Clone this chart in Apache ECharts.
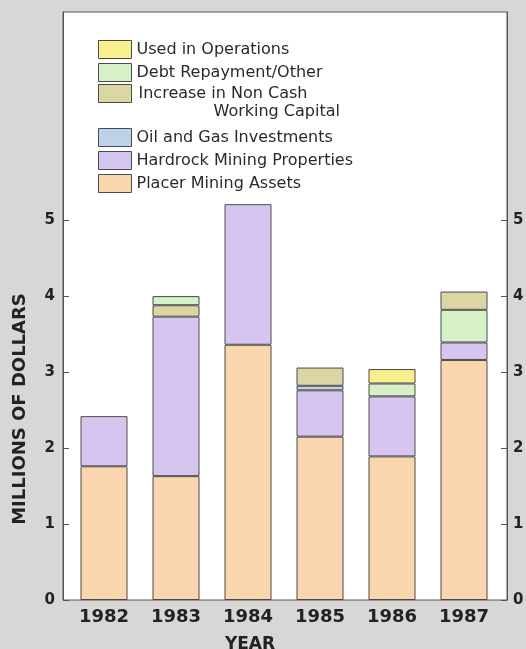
<!DOCTYPE html>
<html>
<head>
<meta charset="utf-8">
<script src="https://cdn.jsdelivr.net/npm/echarts@6/dist/echarts.min.js"></script>
<style>
  html, body { margin: 0; padding: 0; background: #d7d7d5; }
  #chart { width: 526px; height: 649px; }
</style>
</head>
<body>
<div id="chart"></div>
<script>
// Uses of funds by year, millions of dollars
const years = ['1982', '1983', '1984', '1985', '1986', '1987'];
const placerMining = [1.76, 1.63, 3.36, 2.15, 1.89, 3.16];
const hardrockMining = [0.66, 2.10, 1.85, 0.61, 0.79, 0.23];
const oilAndGas = [null, null, null, 0.06, null, null];
// working-capital increase sits below debt repayment in some years, above it in others
const workingCapitalLower = [null, 0.15, null, 0.24, null, null];
const debtRepayment = [null, 0.12, null, null, 0.17, 0.43];
const workingCapitalUpper = [null, null, null, null, null, 0.24];
const usedInOperations = [null, null, null, null, 0.19, null];
const yTicks = [0, 1, 2, 3, 4, 5];

const NAMES = {
  used: 'Used in Operations',
  debt: 'Debt Repayment/Other',
  wc: 'Increase in Non Cash Working Capital',
  oil: 'Oil and Gas Investments',
  hard: 'Hardrock Mining Properties',
  placer: 'Placer Mining Assets'
};
const COLORS = {
  used: '#f8f08c',
  debt: '#d7f0c7',
  wc: '#dcd6a3',
  oil: '#bdd2e6',
  hard: '#d6c6ef',
  placer: '#f9d6ae'
};

const EDGE = '#4a4a4a';
const INK = '#222';
const LEGEND_INK = '#2a2a2a';
const LEGEND_SIZE = 16;

function barSeries(name, color, data) {
  return {
    type: 'bar',
    name: name,
    stack: 'funds',
    data: data,
    barWidth: 47,
    itemStyle: { color: color, borderColor: EDGE, borderWidth: 1 },
    emphasis: { disabled: true },
    xAxisIndex: 0,
    yAxisIndex: 0
  };
}

const legendCommon = {
  orient: 'vertical',
  left: 98,
  padding: 0,
  icon: 'rect',
  itemWidth: 33,
  itemHeight: 18,
  itemGap: 4,
  selectedMode: false,
  textStyle: {
    fontFamily: 'DejaVu Sans',
    fontSize: LEGEND_SIZE,
    color: LEGEND_INK,
    rich: {
      a: { fontFamily: 'DejaVu Sans', fontSize: LEGEND_SIZE, color: LEGEND_INK, lineHeight: 18, padding: [0, 0, 0, 2] },
      b: { fontFamily: 'DejaVu Sans', fontSize: LEGEND_SIZE, color: LEGEND_INK, lineHeight: 18, padding: [0, 0, 0, 77] }
    }
  },
  itemStyle: { borderColor: EDGE, borderWidth: 1 },
  formatter: function (name) {
    if (name === NAMES.wc) return '{a|Increase in Non Cash}\n{b|Working Capital}';
    return name;
  }
};

const chart = echarts.init(document.getElementById('chart'), null, { renderer: 'canvas' });

chart.setOption({
  backgroundColor: '#d7d7d5',
  animation: false,
  legend: [
    Object.assign({}, legendCommon, { top: 40, data: [NAMES.used, NAMES.debt] }),
    // two-line entry: top padding keeps the first line level with its swatch
    Object.assign({}, legendCommon, {
      top: 84,
      data: [{ name: NAMES.wc, textStyle: { padding: [18, 0, 0, 0] } }]
    }),
    Object.assign({}, legendCommon, { top: 128, data: [NAMES.oil, NAMES.hard, NAMES.placer] })
  ],
  grid: [
    { left: 68, right: 26, top: 12, bottom: 49, show: false, outerBoundsMode: 'none' },
    // white framed panel behind the bars
    { left: 63, right: 19, top: 12, bottom: 49, show: true, backgroundColor: '#ffffff',
      borderColor: '#555', borderWidth: 1, z: 0, outerBoundsMode: 'none' }
  ],
  xAxis: [
    {
      gridIndex: 0,
      type: 'category',
      data: years,
      axisLine: { show: false },
      axisTick: { show: false },
      axisLabel: { fontFamily: 'DejaVu Sans', fontWeight: 'bold', fontSize: 18, color: INK, margin: 8 },
      name: 'YEAR',
      nameLocation: 'middle',
      nameGap: 36,
      nameTextStyle: { fontFamily: 'DejaVu Sans', fontWeight: 'bold', fontSize: 17, color: INK, padding: [0, 68, 0, 0] }
    },
    { gridIndex: 1, type: 'value', show: false }
  ],
  yAxis: [
    {
      gridIndex: 0,
      type: 'value',
      position: 'left',
      offset: 5,
      min: 0,
      max: 7.74,
      interval: 1,
      splitLine: { show: false },
      axisLine: { show: true, lineStyle: { color: '#555', width: 1 } },
      axisTick: { show: true, inside: true, length: 6, customValues: yTicks, lineStyle: { color: '#555' } },
      axisLabel: { customValues: yTicks, fontFamily: 'DejaVu Sans', fontWeight: 'bold', fontSize: 15, color: INK, margin: 8 },
      name: 'MILLIONS OF DOLLARS',
      nameLocation: 'middle',
      nameGap: 34,
      nameTextStyle: { fontFamily: 'DejaVu Sans', fontWeight: 'bold', fontSize: 18, color: INK, padding: [0, 206, 0, 0] }
    },
    {
      gridIndex: 0,
      type: 'value',
      position: 'right',
      offset: 7,
      min: 0,
      max: 7.74,
      interval: 1,
      splitLine: { show: false },
      axisLine: { show: true, lineStyle: { color: '#555', width: 1 } },
      axisTick: { show: true, inside: true, length: 6, customValues: yTicks, lineStyle: { color: '#555' } },
      axisLabel: { customValues: yTicks, fontFamily: 'DejaVu Sans', fontWeight: 'bold', fontSize: 15, color: INK, margin: 6 }
    },
    { gridIndex: 1, type: 'value', show: false }
  ],
  series: [
    barSeries(NAMES.placer, COLORS.placer, placerMining),
    barSeries(NAMES.hard, COLORS.hard, hardrockMining),
    barSeries(NAMES.oil, COLORS.oil, oilAndGas),
    barSeries(NAMES.wc, COLORS.wc, workingCapitalLower),
    barSeries(NAMES.debt, COLORS.debt, debtRepayment),
    barSeries(NAMES.wc, COLORS.wc, workingCapitalUpper),
    barSeries(NAMES.used, COLORS.used, usedInOperations)
  ]
});
</script>
</body>
</html>
